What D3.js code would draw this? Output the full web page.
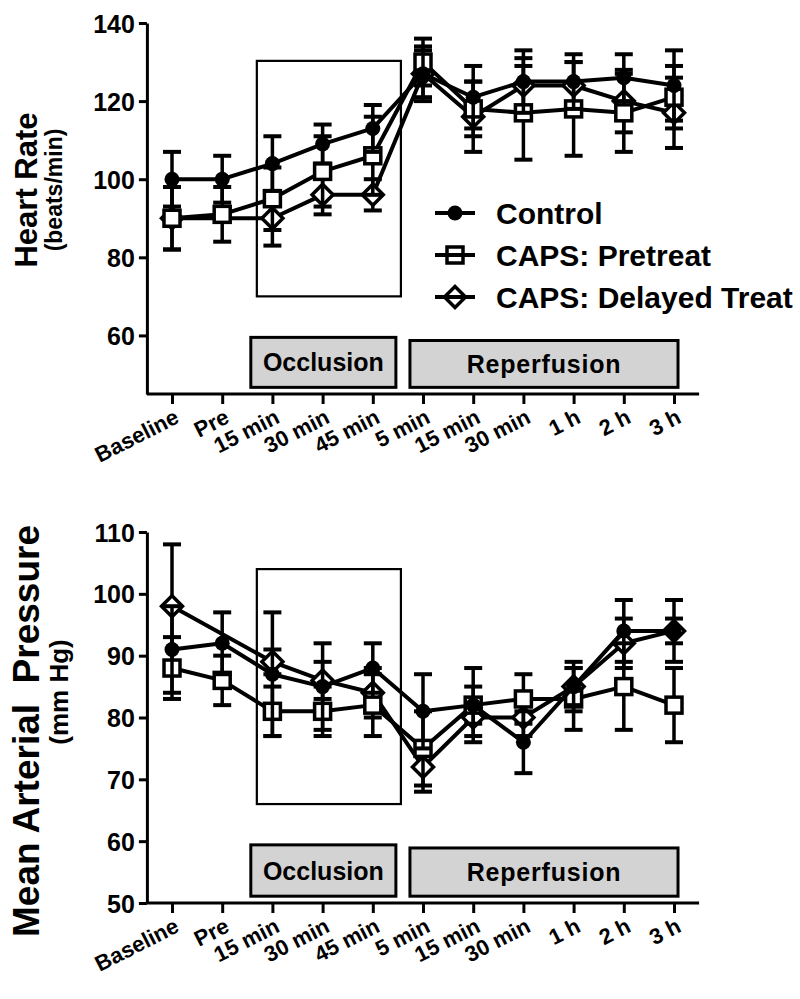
<!DOCTYPE html>
<html><head><meta charset="utf-8">
<script src="https://cdnjs.cloudflare.com/ajax/libs/d3/7.8.5/d3.min.js"></script>
<style>
body{margin:0;background:#fff}
svg{display:block}
text{font-family:"Liberation Sans",Arial,Helvetica,sans-serif;font-weight:bold;fill:#000}
</style>
</head><body>
<svg id="chart" width="800" height="999"></svg>
<script>
// ---------- DATA ----------
const categories = ["Baseline","Pre","15 min","30 min","45 min","5 min","15 min","30 min","1 h","2 h","3 h"];
const seriesNames = ["Control","CAPS: Pretreat","CAPS: Delayed Treat"];
const seriesShapes = ["circle","square","diamond"];

// Heart rate (beats/min); null = no measurement
const hrControl     = [100,100,104,109,113,127,121,125,125,126,124];
const hrControlErr  = [7,6,7,5,6,6,8,8,7,6,9];
const hrPretreat    = [90,91,95,102,106,130,118,117,118,117,121];
const hrPretreatErr = [8,7,8,9,10,6,7,12,12,10,8];
const hrDelayed     = [90,null,90,96,96,127,116,124,124,120,117];
const hrDelayedErr  = [8,null,7,5,4,7,9,7,6,8,9];
const hrTicks = [60,80,100,120,140];
const hrDomain = [45,140];

// Mean arterial pressure (mm Hg)
const mapControl     = [91,92,87,85,88,81,82,76,85,94,94];
const mapControlErr  = [7,5,10,7,4,6,6,5,3,5,5];
const mapPretreat    = [88,86,81,81,82,75,82,83,83,85,82];
const mapPretreatErr = [5,4,4,4,5,6,3,4,5,7,6];
const mapDelayed     = [98,null,89,86,84,72,80,80,85,92,94];
const mapDelayedErr  = [10,null,2,3,4,4,3,3,4,4,2];
const mapTicks = [50,60,70,80,90,100,110];
const mapDomain = [50,110];

// Annotation boxes (x in category-index units, y in data units)
const hrOpenBox   = {x0:1.69, x1:4.56, y0:70, y1:130.3};
const hrBands     = [{label:"Occlusion", x0:1.57, x1:4.46, y0:46.7, y1:59.5},
                     {label:"Reperfusion", x0:4.74, x1:10.08, y0:46.7, y1:58.7}];
const mapOpenBox  = {x0:1.69, x1:4.56, y0:66, y1:104};
const mapBands    = [{label:"Occlusion", x0:1.57, x1:4.46, y0:51.1, y1:59.4},
                     {label:"Reperfusion", x0:4.74, x1:10.08, y0:51.1, y1:58.9}];

// ---------- DRAW ----------
const svg = d3.select("#chart");
const x = d3.scaleLinear().domain([0, categories.length-1]).range([172, 674]);
const FONT = "Liberation Sans, Arial, sans-serif";

function marker(sel, shape, fill){
  if(shape==="circle"){
    sel.append("circle").attr("r",7.5).attr("fill","#000");
  } else if(shape==="square"){
    sel.append("rect").attr("x",-8).attr("y",-8).attr("width",16).attr("height",16)
      .attr("fill",fill).attr("stroke","#000").attr("stroke-width",3.5);
  } else {
    sel.append("path").attr("d","M0,-10.5L10.5,0L0,10.5L-10.5,0Z")
      .attr("fill",fill).attr("stroke","#000").attr("stroke-width",3.5);
  }
}

function panel(cfg){
  const y = d3.scaleLinear().domain(cfg.domain).range(cfg.range);
  const g = svg.append("g");

  const ob = cfg.openBox;
  g.append("rect").attr("x",x(ob.x0)).attr("y",y(ob.y1))
    .attr("width",x(ob.x1)-x(ob.x0)).attr("height",y(ob.y0)-y(ob.y1))
    .attr("fill","none").attr("stroke","#000").attr("stroke-width",2.2);

  cfg.bands.forEach(b=>{
    g.append("rect").attr("x",x(b.x0)).attr("y",y(b.y1))
      .attr("width",x(b.x1)-x(b.x0)).attr("height",y(b.y0)-y(b.y1))
      .attr("fill","#d3d3d3").attr("stroke","#000").attr("stroke-width",3);
    g.append("text").attr("x",(x(b.x0)+x(b.x1))/2).attr("y",(y(b.y0)+y(b.y1))/2+9)
      .attr("text-anchor","middle").style("font-size","25px")
      .style("letter-spacing", b.label==="Reperfusion" ? "0.8px" : "0px").text(b.label);
  });

  const ya = g.append("g").attr("transform",`translate(${x(-0.5)},0)`)
    .call(d3.axisLeft(y).tickValues(cfg.ticks).tickSize(8).tickSizeOuter(0).tickPadding(4));
  ya.select(".domain").attr("stroke-width",3);
  ya.selectAll(".tick line").attr("stroke-width",3);
  ya.selectAll(".tick text").style("font-size","25px").style("font-family",FONT).style("font-weight","bold").attr("dy","0.36em");

  const y0 = y(cfg.domain[0]);
  g.append("line").attr("x1",x(-0.5)).attr("x2",x(10.5)).attr("y1",y0).attr("y2",y0)
    .attr("stroke","#000").attr("stroke-width",3);
  const xa = g.append("g").attr("transform",`translate(0,${y0})`)
    .call(d3.axisBottom(x).tickValues(d3.range(categories.length)).tickFormat(i=>categories[i]).tickSize(10).tickSizeOuter(0));
  xa.select(".domain").remove();
  xa.selectAll(".tick line").attr("stroke-width",3);
  xa.selectAll(".tick text").attr("x",0).attr("y",0).attr("dy",0)
    .attr("text-anchor","end").attr("transform","translate(8,28) rotate(-27)")
    .style("font-size","22px").style("font-family",FONT).style("font-weight","bold");

  // series drawn in reverse order so Control sits on top
  for(let si=cfg.series.length-1; si>=0; si--){
    const s = cfg.series[si];
    const pts = s.values.map((v,i)=>({i, v, e:s.err[i]})).filter(d=>d.v!=null);
    const line = d3.line().x(d=>x(d.i)).y(d=>y(d.v));
    g.append("path").datum(pts).attr("d",line).attr("fill","none")
      .attr("stroke","#000").attr("stroke-width",4).attr("stroke-linejoin","round");
    const eb = g.append("g");
    pts.forEach(d=>{
      eb.append("line").attr("x1",x(d.i)).attr("x2",x(d.i)).attr("y1",y(d.v-d.e)).attr("y2",y(d.v+d.e))
        .attr("stroke","#000").attr("stroke-width",3.5);
      [d.v-d.e,d.v+d.e].forEach(c=>{
        eb.append("line").attr("x1",x(d.i)-9).attr("x2",x(d.i)+9).attr("y1",y(c)).attr("y2",y(c))
          .attr("stroke","#000").attr("stroke-width",4);
      });
    });
    pts.forEach(d=>{
      const m = g.append("g").attr("transform",`translate(${x(d.i)},${y(d.v)})`);
      marker(m, seriesShapes[si], "#fff");
    });
  }

  cfg.titles.forEach(t=>{
    g.append("text").attr("transform",`translate(${t.x},${t.y}) rotate(-90)`)
      .attr("text-anchor","middle").style("font-size",t.size+"px").text(t.text);
  });
  return y;
}

panel({
  domain: hrDomain, range:[394,23], ticks: hrTicks,
  openBox: hrOpenBox, bands: hrBands,
  series:[{values:hrControl,err:hrControlErr},{values:hrPretreat,err:hrPretreatErr},{values:hrDelayed,err:hrDelayedErr}],
  titles:[{text:"Heart Rate",x:37,y:190,size:31},{text:"(beats/min)",x:62,y:190,size:23}]
});

panel({
  domain: mapDomain, range:[903,532], ticks: mapTicks,
  openBox: mapOpenBox, bands: mapBands,
  series:[{values:mapControl,err:mapControlErr},{values:mapPretreat,err:mapPretreatErr},{values:mapDelayed,err:mapDelayedErr}],
  titles:[{text:"Mean Arterial\u00A0\u00A0Pressure",x:39,y:731,size:37},{text:"(mm Hg)",x:68,y:692,size:26}]
});

const legY = [213,255,297];
seriesNames.forEach((n,i)=>{
  const lg = svg.append("g").attr("transform",`translate(455,${legY[i]})`);
  lg.append("line").attr("x1",-20).attr("x2",20).attr("stroke","#000").attr("stroke-width",4);
  marker(lg, seriesShapes[i], "none");
  lg.append("text").attr("x",41).attr("y",10.5).style("font-size","30px").text(n);
});
</script>
</body></html>
